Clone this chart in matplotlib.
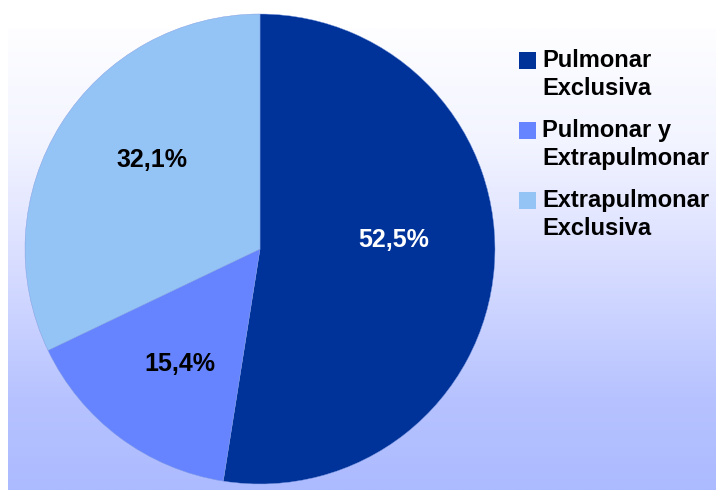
import numpy as np
from matplotlib import pyplot as plt
from matplotlib.patches import Rectangle

plt.rcParams['font.family'] = ['Liberation Sans', 'DejaVu Sans']

categorias = ['Pulmonar\nExclusiva', 'Pulmonar y\nExtrapulmonar', 'Extrapulmonar\nExclusiva']
porcentajes = [52.5, 15.4, 32.1]
colores = ['#003399', '#6684FF', '#94C3F6']
color_texto = ['white', 'black', 'black']

W, H = 716, 492
fig = plt.figure(figsize=(W / 100, H / 100), dpi=100)

# fondo degradado (blanco arriba, azul lavanda abajo)
bg = fig.add_axes([8 / W, 2 / H, (W - 8) / W, 462 / H])
paradas_y = np.array([0.0, 0.25, 0.46, 0.63, 0.80, 1.0])
paradas_c = np.array([[254, 254, 255], [242, 244, 255], [222, 226, 255],
                      [202, 210, 255], [183, 195, 255], [172, 186, 255]]) / 255
t = np.linspace(0, 1, 300)
grad = np.stack([np.interp(t, paradas_y, paradas_c[:, k]) for k in range(3)], axis=-1)
bg.imshow(grad[:, None, :], aspect='auto', extent=[0, 1, 1, 0])
bg.set_axis_off()

# tarta
cx, cy, r = 260, 249, 235
ax = fig.add_axes([(cx - r) / W, (H - cy - r) / H, 2 * r / W, 2 * r / H])
cuñas, textos = ax.pie(porcentajes, colors=colores, startangle=90, counterclock=False,
                       radius=1, labels=None,
                       wedgeprops=dict(linewidth=0.3, edgecolor='#7f9be0'))
ax.set_xlim(-1, 1)
ax.set_ylim(-1, 1)
ax.set_aspect('equal')
ax.set_axis_off()

posiciones = [(0.57, 0.04), (-0.34, -0.49), (-0.46, 0.38)]
for p, (x, y), c in zip(porcentajes, posiciones, color_texto):
    ax.text(x, y, f'{p:.1f}%'.replace('.', ','), ha='center', va='center',
            fontsize=18, fontweight='bold', color=c)

# leyenda
y0 = 52
for i, (cat, col) in enumerate(zip(categorias, colores)):
    y = y0 + i * 70
    fig.patches.append(Rectangle((519 / W, 1 - (y + 17) / H), 17 / W, 17 / H,
                                 transform=fig.transFigure, facecolor=col,
                                 edgecolor='none'))
    fig.text(542 / W, 1 - (y - 3) / H, cat, ha='left', va='top',
             fontsize=17, fontweight='bold', color='black', linespacing=1.3)

fig.savefig('out.png', dpi=100)
